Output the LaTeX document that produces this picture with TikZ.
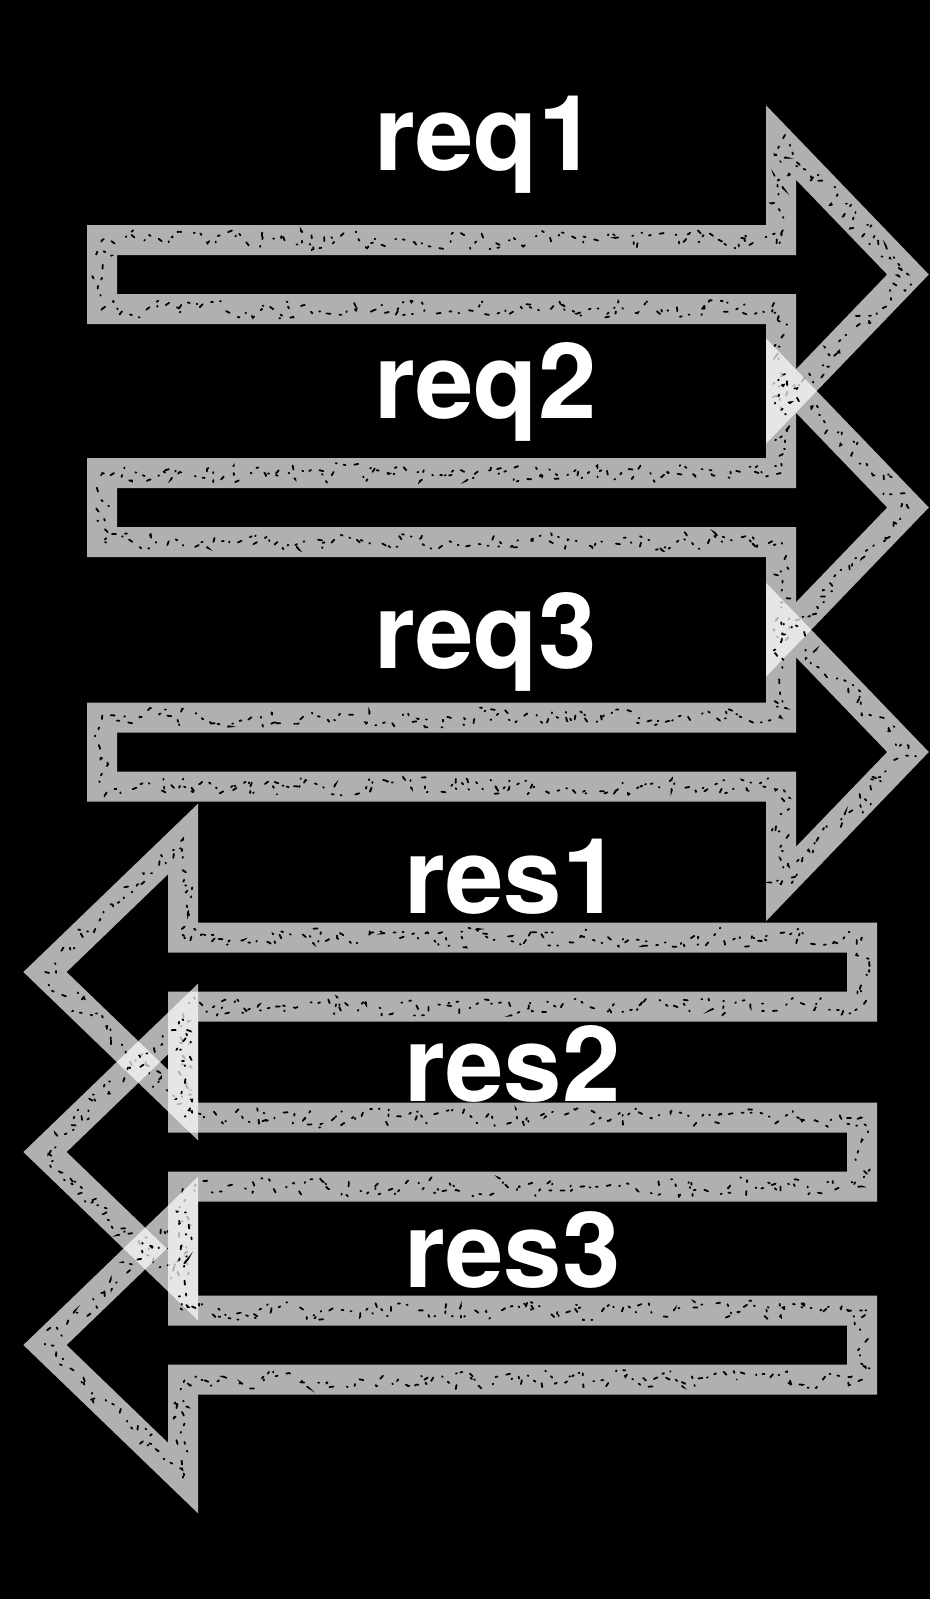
\documentclass[tikz,border=0pt]{standalone}
\usepackage{fontspec}
\setmainfont{TeX Gyre Heros}
\usetikzlibrary{decorations.pathmorphing}
\newcommand\reqarrow[1]{\draw[chalk] (102,#1-34.5) -- (781,#1-34.5) -- (781,#1-132) -- (908,#1) -- (781,#1+132) -- (781,#1+34.5) -- (102,#1+34.5) -- cycle;
  \draw[speck] (102,#1-34.5) -- (781,#1-34.5) -- (781,#1-132) -- (908,#1) -- (781,#1+132) -- (781,#1+34.5) -- (102,#1+34.5) -- cycle;}
\newcommand\resarrow[1]{\draw[chalk] (862,#1-34.5) -- (183,#1-34.5) -- (183,#1-133) -- (45,#1) -- (183,#1+133) -- (183,#1+34.5) -- (862,#1+34.5) -- cycle;
  \draw[speck] (862,#1-34.5) -- (183,#1-34.5) -- (183,#1-133) -- (45,#1) -- (183,#1+133) -- (183,#1+34.5) -- (862,#1+34.5) -- cycle;}
\begin{document}
\begin{tikzpicture}[x=1pt,y=-1pt,
  chalk/.style={draw=white, draw opacity=0.69, line width=30pt, line join=miter},
  speck/.style={draw=black, line width=1.8pt, line cap=round, dash pattern=on 2pt off 9pt on 4pt off 14pt on 1pt off 7pt,
    decorate, decoration={random steps, segment length=6pt, amplitude=10pt}},
  lbl/.style={text=white, font=\fontsize{105}{105}\selectfont\bfseries, anchor=base west, inner sep=0pt}]
\pgfmathsetseed{7}
\fill[black] (0,0) rectangle (930,1599);
\useasboundingbox (0,0) rectangle (930,1599);
\reqarrow{274.5}
\reqarrow{507.5}
\reqarrow{752}
\resarrow{972}
\resarrow{1152}
\resarrow{1345}
\node[lbl] (req1) at (374,170) {req1};
\node[lbl] (req2) at (374,418) {req2};
\node[lbl] (req3) at (374,668) {req3};
\node[lbl] (res1) at (404,913) {res1};
\node[lbl] (res2) at (404,1101) {res2};
\node[lbl] (res3) at (404,1287) {res3};
\end{tikzpicture}
\end{document}
